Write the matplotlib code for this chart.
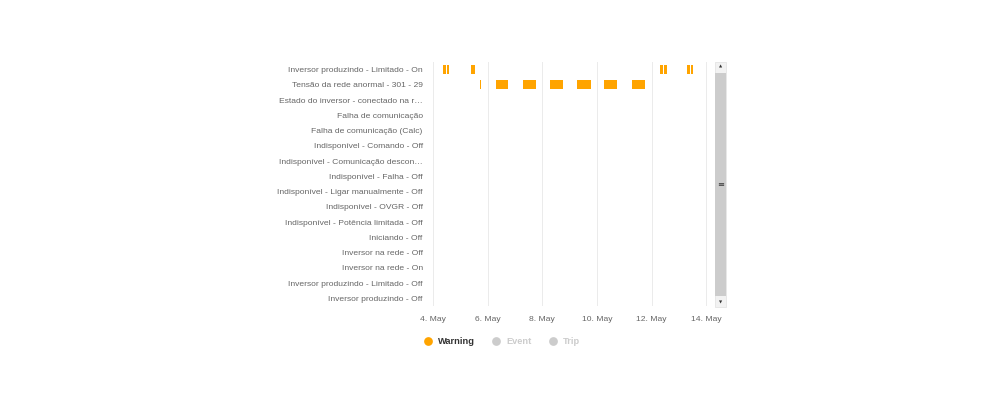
import matplotlib
matplotlib.use("Agg")
import matplotlib.pyplot as plt
import matplotlib.dates as mdates
from matplotlib.patches import Rectangle
from matplotlib.lines import Line2D
import pandas as pd

plt.rcParams['font.family'] = ['Liberation Sans', 'DejaVu Sans']

# categories, top to bottom
categories = [
    "Inversor produzindo - Limitado - On",
    "Tensão da rede anormal - 301 - 29",
    "Estado do inversor - conectado na r…",
    "Falha de comunicação",
    "Falha de comunicação (Calc)",
    "Indisponível - Comando - Off",
    "Indisponível - Comunicação descon…",
    "Indisponível - Falha - Off",
    "Indisponível - Ligar manualmente - Off",
    "Indisponível - OVGR - Off",
    "Indisponível - Potência limitada - Off",
    "Iniciando - Off",
    "Inversor na rede - Off",
    "Inversor na rede - On",
    "Inversor produzindo - Limitado - Off",
    "Inversor produzindo - Off",
]

# warning intervals: (row, start, end)
warn_rows = [0, 0, 0, 0, 0, 0, 0,
             1, 1, 1, 1, 1, 1, 1]
warn_start = ["2023-05-04 09:00", "2023-05-04 12:00", "2023-05-05 09:20",
              "2023-05-12 07:40", "2023-05-12 11:00", "2023-05-13 07:10", "2023-05-13 10:30",
              "2023-05-05 17:00", "2023-05-06 07:30", "2023-05-07 07:10", "2023-05-08 07:00",
              "2023-05-09 06:30", "2023-05-10 06:20", "2023-05-11 07:00"]
warn_end = ["2023-05-04 11:00", "2023-05-04 14:00", "2023-05-05 13:00",
            "2023-05-12 10:30", "2023-05-12 13:40", "2023-05-13 09:30", "2023-05-13 12:30",
            "2023-05-05 18:20", "2023-05-06 18:00", "2023-05-07 18:30", "2023-05-08 18:20",
            "2023-05-09 19:00", "2023-05-10 17:50", "2023-05-11 18:30"]

tick_dates = ["2023-05-04", "2023-05-06", "2023-05-08", "2023-05-10", "2023-05-12", "2023-05-14"]
legend_names = ["Warning", "Event", "Trip"]

orange = "#ffa400"

fig = plt.figure(figsize=(10, 4), dpi=100)
ax = fig.add_axes([0.431, 1 - 306 / 400, 0.279, 244 / 400])

s = mdates.date2num(pd.to_datetime(warn_start))
e = mdates.date2num(pd.to_datetime(warn_end))
ax.barh(warn_rows, e - s, left=s, height=0.58, color=orange, linewidth=0)

ticks = mdates.date2num(pd.to_datetime(tick_dates))
ax.set_xlim(ticks[0] - 0.075, ticks[-1] + 0.14)
ax.set_ylim(len(categories) - 0.5, -0.5)
ax.set_yticks(range(len(categories)))
ax.set_yticklabels(categories)
ax.set_xticks(ticks)
ax.set_xticklabels([f"{d.day}. May" for d in pd.to_datetime(tick_dates)])
ax.tick_params(axis='both', length=0, labelsize=6.1, colors="#666666")
ax.tick_params(axis='y', pad=6)
ax.tick_params(axis='x', pad=7)
ax.grid(axis='x', color="#ebebeb", linewidth=0.7)
ax.set_axisbelow(True)
for sp in ax.spines.values():
    sp.set_visible(False)

# scrollbar
sx0, sx1 = 715 / 1000, 726 / 1000
sy0, sy1 = 1 - 307 / 400, 1 - 62 / 400
fig.patches.append(Rectangle((sx0, sy0), sx1 - sx0, sy1 - sy0, transform=fig.transFigure,
                             facecolor="#f2f2f2", edgecolor="#e0e0e0", linewidth=0.5))
fig.patches.append(Rectangle((sx0, sy0 + 11 / 400), sx1 - sx0, sy1 - sy0 - 22 / 400,
                             transform=fig.transFigure, facecolor="#cccccc", edgecolor="none"))
fig.text((sx0 + sx1) / 2, sy1 - 5 / 400, "▲", fontsize=3, color="#333333",
         ha='center', va='center', family='DejaVu Sans')
fig.text((sx0 + sx1) / 2, sy0 + 5 / 400, "▼", fontsize=3, color="#333333",
         ha='center', va='center', family='DejaVu Sans')
fig.text((sx0 + sx1) / 2, (sy0 + sy1) / 2, "≡", fontsize=6, color="#333333",
         ha='center', va='center', family='DejaVu Sans')

# legend
leg_x = [428, 496, 553]
leg_cols = [orange, "#cccccc", "#cccccc"]
txt_cols = ["#333333", "#cccccc", "#cccccc"]
for name, x, c, tc in zip(legend_names, leg_x, leg_cols, txt_cols):
    fig.add_artist(Line2D([x / 1000], [1 - 341 / 400], marker='o', markersize=6.3,
                          color=c, markeredgewidth=0, transform=fig.transFigure))
    fig.text((x + 10) / 1000, 1 - 341 / 400, name, fontsize=6.7, fontweight='bold',
             color=tc, va='center', ha='left')

fig.savefig("out.png", dpi=100, facecolor="white")
